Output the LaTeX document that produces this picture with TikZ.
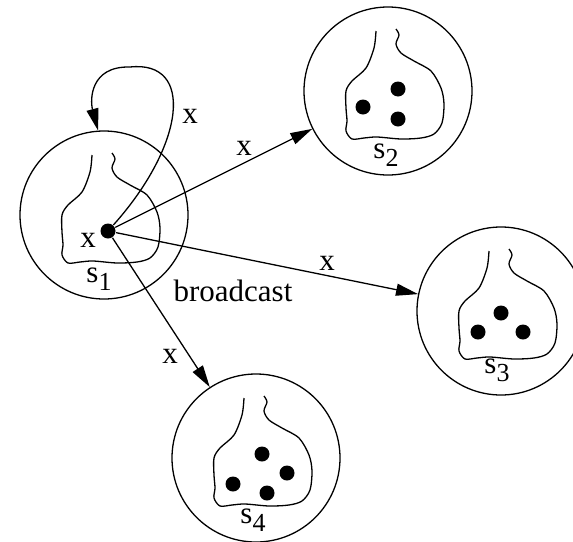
\documentclass[tikz,border=0pt]{standalone}
\usepackage{fontspec}
\setmainfont{Liberation Serif}
\usetikzlibrary{arrows.meta}

\tikzset{
  state/.style={circle, draw, minimum size=84pt, inner sep=0pt},
  tok/.style={circle, fill, minimum size=7.5pt, inner sep=0pt},
  lbl/.style={anchor=base, inner sep=0pt},
  msg/.style={-{Triangle[length=11pt,width=6pt]}},
}
\newcommand{\sname}[1]{s\raisebox{-4pt}{\fontsize{13}{13}\selectfont #1}}

\begin{document}
\begin{tikzpicture}[x=0.5pt,y=-0.5pt,line width=0.65pt,font=\fontsize{15.5}{18}\selectfont]
    \useasboundingbox (0,0) rectangle (573,541);

    \node[state] (s1) at (104,215) {};
    \node[state] (s2) at (388,91) {};
    \node[state] (s3) at (501,311) {};
    \node[state] (s4) at (256,458) {};

    \foreach \cx/\cy in {104/215,388/91,501/311,256/458}
        \draw[shift={(\cx,\cy)}] plot[smooth] coordinates {(-12,-60) (-14,-43) (-22,-23) (-36,-10) (-42,0) (-42,17) (-41,30) (-42,40) (-36,48) (-24,47) (-11,46) (13,48) (33,47) (46,43) (54,32) (56,13) (53,-3) (43,-20) (26,-30) (13,-38) (8,-47) (11,-56) (8,-62)};

%    \foreach \cx/\cy in {104/215,388/91,501/311,256/458} \draw[red] (\cx,\cy) circle (2pt);

    \node[tok] (d1) at (108,231) {};
    \foreach \p in {(398,89),(363,107),(398,119),(501,313),(478,332),(523,332),(262,454),(287,473),(233,484),(267,493)}
        \fill \p circle (3.75pt);

    \draw[msg] (d1) -- (s2);
    \draw[msg] (d1) -- (s3);
    \draw[msg] (d1) -- (s4);
    \draw[msg] (d1) .. controls (185,145) and (195,60) .. (130,67) .. controls (90,66) and (90,100) .. (s1.94);

    \node[lbl] (n1) at (99,282) {\sname{1}};
    \node[lbl] (n2) at (386,158) {\sname{2}};
    \node[lbl] (n3) at (497,373) {\sname{3}};
    \node[lbl] (n4) at (253,523) {\sname{4}};

    \node[lbl] (x0) at (88,247) {x};
    \node[lbl] (x1) at (190,123) {x};
    \node[lbl] (x2) at (244,155) {x};
    \node[lbl] (x3) at (327,270) {x};
    \node[lbl] (x4) at (170,363) {x};
    \node[lbl] (bc) at (233,301) {broadcast};

\end{tikzpicture}
\end{document}
